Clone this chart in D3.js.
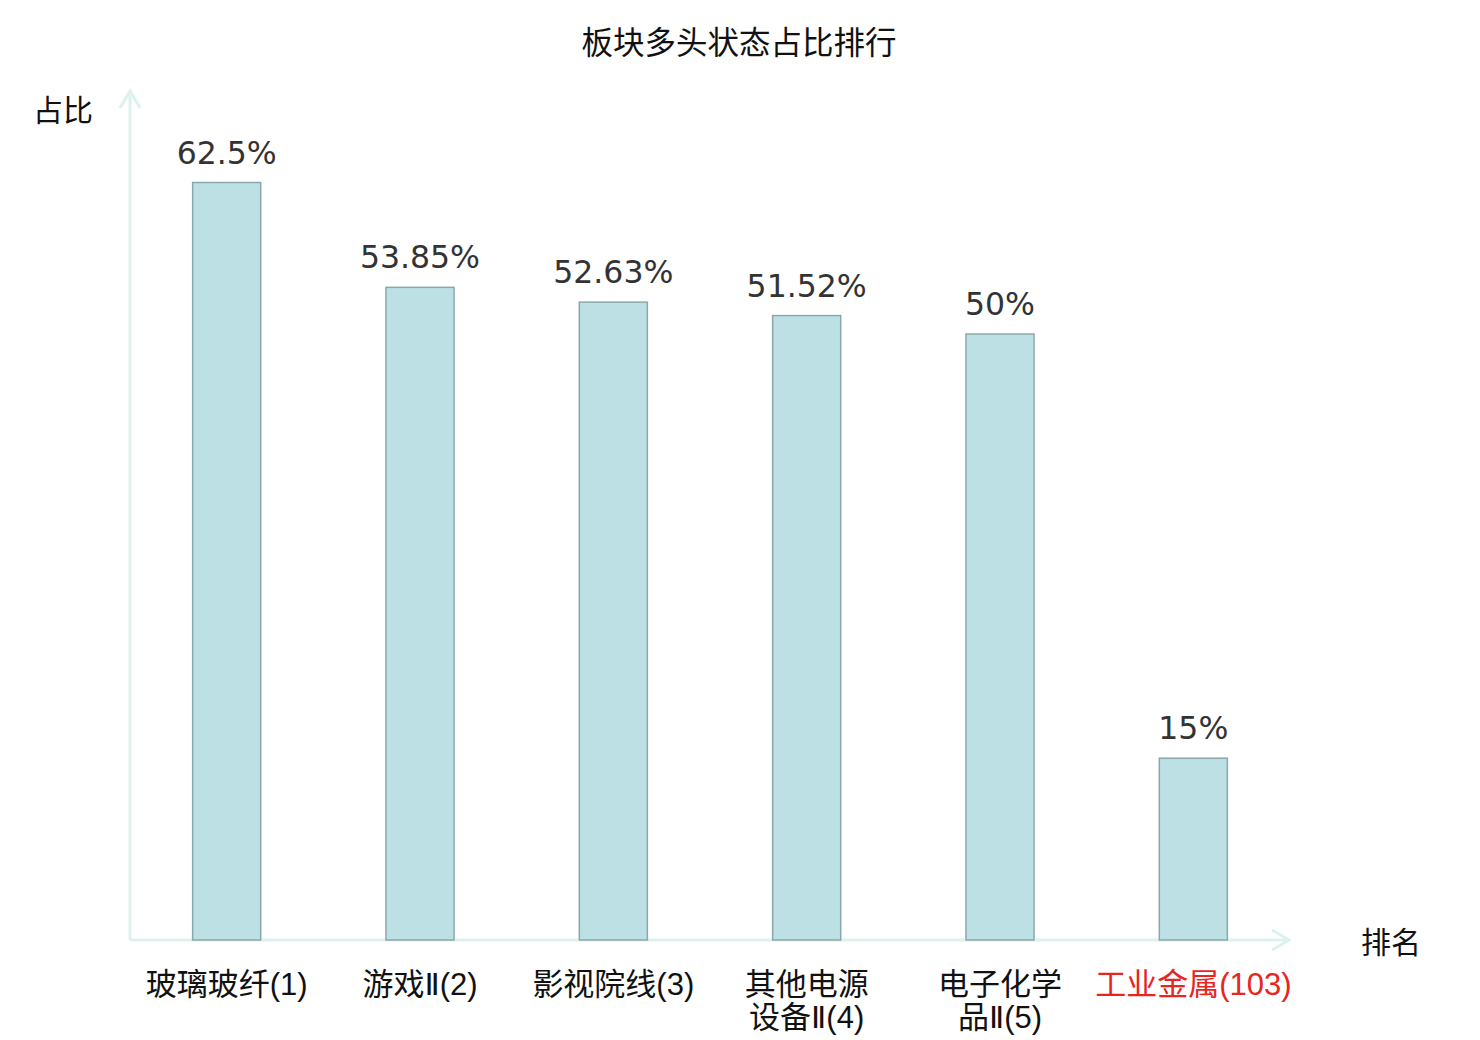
<!DOCTYPE html>
<html lang="zh">
<head>
<meta charset="utf-8">
<title>板块多头状态占比排行</title>
<script src="https://cdnjs.cloudflare.com/ajax/libs/d3/7.8.5/d3.min.js"></script>
<style>
  body { margin: 0; background: #fff; }
  .cjk { font-family: "Noto Sans CJK SC", sans-serif; }
  .cat { font-family: "Liberation Sans", "DejaVu Sans", "Noto Sans CJK SC", sans-serif; }
  .val { font-family: "DejaVu Sans", sans-serif; font-size: 31.5px; fill: #333; }
</style>
</head>
<body>
<svg id="chart" width="1480" height="1040"></svg>
<script>
// data
var categories = ["玻璃玻纤(1)", "游戏Ⅱ(2)", "影视院线(3)", "其他电源\n设备Ⅱ(4)", "电子化学\n品Ⅱ(5)", "工业金属(103)"]
var values = [62.5, 53.85, 52.63, 51.52, 50, 15]
var valueLabels = ["62.5%", "53.85%", "52.63%", "51.52%", "50%", "15%"]
var highlight = [false, false, false, false, false, true]

var svg = d3.select("#chart")
var axisColor = "#ddf1ee"

var x = d3.scaleBand()
  .domain(categories)
  .range([130, 1290])
  .padding(0)

var y = d3.scaleLinear()
  .domain([0, 70])
  .range([940, 91.6])

var barW = x.bandwidth() * 0.352

// title
svg.append("text")
  .attr("class", "cjk")
  .attr("x", 739)
  .attr("y", 54)
  .attr("text-anchor", "middle")
  .attr("font-size", "31.5px")
  .attr("fill", "#111")
  .text("板块多头状态占比排行")

// axes (arrows)
svg.append("line")
  .attr("x1", 130).attr("y1", 940)
  .attr("x2", 130).attr("y2", 91)
  .attr("stroke", axisColor).attr("stroke-width", 3)
svg.append("path")
  .attr("d", "M120,108 L130,91 L140,108")
  .attr("fill", "none").attr("stroke", axisColor).attr("stroke-width", 3)

svg.append("line")
  .attr("x1", 130).attr("y1", 940)
  .attr("x2", 1289).attr("y2", 940)
  .attr("stroke", axisColor).attr("stroke-width", 3)
svg.append("path")
  .attr("d", "M1272,930 L1289,940 L1272,950")
  .attr("fill", "none").attr("stroke", axisColor).attr("stroke-width", 3)

svg.append("text")
  .attr("class", "cjk")
  .attr("x", 33).attr("y", 121)
  .attr("font-size", "30px").attr("fill", "#111")
  .text("占比")

svg.append("text")
  .attr("class", "cjk")
  .attr("x", 1361).attr("y", 953)
  .attr("font-size", "30px").attr("fill", "#111")
  .text("排名")

// bars
svg.selectAll(".bar")
  .data(values)
  .enter().append("rect")
  .attr("class", "bar")
  .attr("x", function(d, i) { return x(categories[i]) + x.bandwidth() / 2 - barW / 2 })
  .attr("y", function(d) { return y(d) })
  .attr("width", barW)
  .attr("height", function(d) { return y(0) - y(d) })
  .attr("fill", "#bce0e3")
  .attr("stroke", "#8aa8aa")
  .attr("stroke-width", 1.5)

// value labels
svg.selectAll(".val")
  .data(values)
  .enter().append("text")
  .attr("class", "val")
  .attr("x", function(d, i) { return x(categories[i]) + x.bandwidth() / 2 })
  .attr("y", function(d) { return y(d) - 19 })
  .attr("text-anchor", "middle")
  .text(function(d, i) { return valueLabels[i] })

// category labels, one text per line
categories.forEach(function(d, i) {
  var cx = x(d) + x.bandwidth() / 2
  d.split("\n").forEach(function(line, j) {
    svg.append("text")
      .attr("class", "cat")
      .attr("x", cx)
      .attr("y", 995 + j * 33)
      .attr("text-anchor", "middle")
      .attr("font-size", "31px")
      .attr("fill", highlight[i] ? "#e8251f" : "#111")
      .text(line)
  })
})
</script>
</body>
</html>
